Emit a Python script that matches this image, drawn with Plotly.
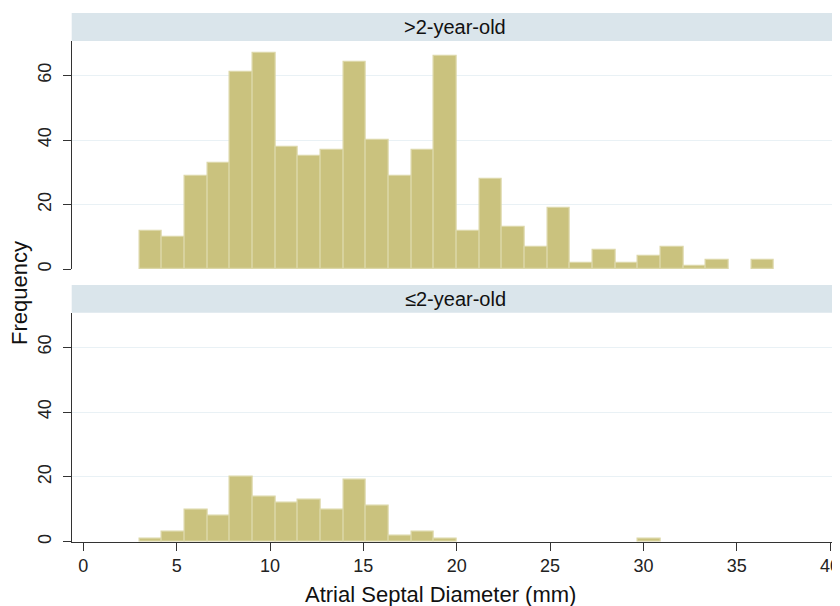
import plotly.graph_objects as go

# Histogram bins (mm): 28 equal bins from 3 to 37
bin_start = 3.0
bin_width = 34.0 / 28

groups = [">2-year-old", "≤2-year-old"]
counts_over2 = [12, 10, 29, 33, 61, 67, 38, 35, 37, 64, 40, 29, 37, 66,
                12, 28, 13, 7, 19, 2, 6, 2, 4, 7, 1, 3, 0, 3]
counts_under2 = [1, 3, 10, 8, 20, 14, 12, 13, 10, 19, 11, 2, 3, 1,
                 0, 0, 0, 0, 0, 0, 0, 0, 1, 0, 0, 0, 0, 0]

x_ticks = [0, 5, 10, 15, 20, 25, 30, 35, 40]
y_ticks = [0, 20, 40, 60]

# page body has an 8px default margin: figure is drawn offset by 8px
OFF = 8
W, H = 840 - OFF, 606 - OFF
BAR = "#cac27e"
BAR_LINE = "#dcd7a8"
GRID = "#e9f1f5"
STRIP = "#dae5eb"
FONT = "Liberation Sans, Arial, sans-serif"

def py(px):
    return 1 - (px - OFF) / H

def pxx(px):
    return (px - OFF) / W

fig = go.Figure()
for i, (name, counts) in enumerate(zip(groups, [counts_over2, counts_under2])):
    ax = "" if i == 0 else "2"
    xs = [bin_start + bin_width * (k + 0.5) for k, c in enumerate(counts) if c > 0]
    ys = [c for c in counts if c > 0]
    fig.add_trace(go.Bar(
        x=xs, y=ys, width=bin_width,
        marker=dict(color=BAR, line=dict(color=BAR_LINE, width=1.2)),
        xaxis="x" + ax, yaxis="y" + ax, name=name, showlegend=False,
    ))

plot_left = 71.7
x0_px, px_per_mm = 83.3, 18.67
xr = [-(x0_px - plot_left) / px_per_mm, -(x0_px - plot_left) / px_per_mm + (840 - plot_left) / px_per_mm]
yr = [0, 70.65]

panels = [(41, 269.3), (312.7, 541.7)]
strips = [(13, 41), (285, 312.7)]

common_y = dict(range=yr, tickvals=y_ticks, tickangle=-90, ticks="outside", ticklen=8,
                tickcolor="#333", showline=True, linecolor="#333", linewidth=1.3,
                showgrid=True, gridcolor=GRID, gridwidth=1.2, zeroline=False,
                ticklabelstandoff=4, automargin=False,
                tickfont=dict(family=FONT, size=18, color="#222"))
common_x = dict(range=xr, tickvals=x_ticks, zeroline=False, showgrid=False, automargin=False)

layout = dict(
    width=W, height=H,
    margin=dict(l=0, r=0, t=0, b=0, pad=0),
    paper_bgcolor="white", plot_bgcolor="white",
    bargap=0,
    xaxis=dict(**common_x, domain=[pxx(plot_left), 1], anchor="y", showticklabels=False,
               ticks="", showline=False),
    yaxis=dict(**common_y, domain=[py(panels[0][1]), py(panels[0][0])], anchor="x"),
    xaxis2=dict(**common_x, domain=[pxx(plot_left), 1], anchor="y2", ticks="outside", ticklen=8,
                tickcolor="#333", showline=True, linecolor="#333", linewidth=1.3,
                ticklabeloverflow="allow",
                tickfont=dict(family=FONT, size=18, color="#222")),
    yaxis2=dict(**common_y, domain=[py(panels[1][1]), py(panels[1][0])], anchor="x2"),
)
fig.update_layout(**layout)

shapes = []
annotations = []
for (t, b), name in zip(strips, groups):
    shapes.append(dict(type="rect", xref="paper", yref="paper",
                       x0=pxx(plot_left), x1=1.0, y0=py(b), y1=py(t),
                       fillcolor=STRIP, line=dict(width=0), layer="below"))
    annotations.append(dict(text=name, xref="paper", yref="paper",
                            x=pxx(455), y=py((t + b) / 2), showarrow=False,
                            xanchor="center", yanchor="middle",
                            font=dict(family=FONT, size=20, color="#111")))

annotations.append(dict(text="Frequency", xref="paper", yref="paper",
                        x=pxx(19), y=py(293), textangle=-90, showarrow=False,
                        xanchor="center", yanchor="middle",
                        font=dict(family=FONT, size=22, color="#111")))
annotations.append(dict(text="Atrial Septal Diameter (mm)", xref="paper", yref="paper",
                        x=pxx(440), y=py(594), showarrow=False,
                        xanchor="center", yanchor="middle",
                        font=dict(family=FONT, size=22, color="#111")))

fig.update_layout(shapes=shapes, annotations=annotations)
fig.write_html("out.html")
